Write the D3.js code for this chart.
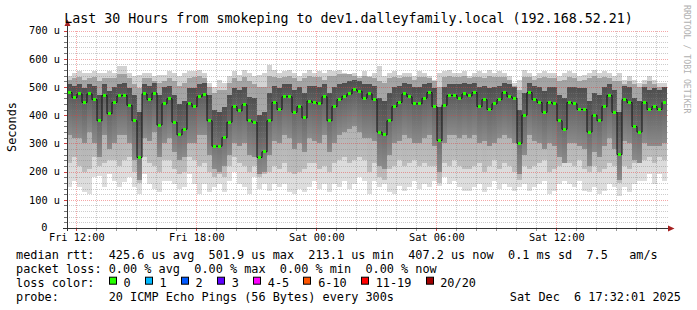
<!DOCTYPE html>
<html>
<head>
<meta charset="utf-8">
<script src="https://cdn.jsdelivr.net/npm/d3@7"></script>
<style>
  body { margin: 0; background: #fff; }
  text { font-family: "DejaVu Sans Mono", monospace; fill: #000; white-space: pre; }
</style>
</head>
<body>
<svg id="chart" width="697" height="310"></svg>
<script>
// 30 hours, one value every 15 minutes (values in microseconds)
const stepMinutes = 15;
const startTime = new Date(2025, 11, 5, 11, 32, 1);
const endTime = new Date(2025, 11, 6, 17, 32, 1);

const median = [
  480, 462, 475, 445, 475, 455, 380, 470, 405, 445, 468, 470, 435, 380, 250, 475, 455, 478, 365, 440,
  458, 375, 330, 350, 440, 430, 465, 472, 380, 290, 290, 320, 375, 430, 415, 437, 380, 375, 250, 270,
  380, 445, 420, 465, 465, 410, 430, 390, 450, 445, 440, 465, 380, 430, 455, 467, 475, 490, 485, 460,
  475, 455, 340, 330, 380, 430, 445, 475, 465, 440, 440, 460, 480, 430, 310, 435, 470, 470, 460, 475,
  468, 480, 430, 455, 420, 440, 455, 480, 465, 460, 300, 400, 480, 455, 445, 410, 445, 440, 380, 350,
  445, 440, 420, 420, 340, 400, 380, 430, 470, 410, 260, 455, 445, 360, 340, 445, 420, 430, 420, 445
];
// smoke: slowest and fastest of the 20 pings
const smokeMax = [
  537, 549, 555, 549, 549, 555, 549, 549, 555, 549, 573, 573, 549, 537, 543, 549, 549, 537, 543, 543,
  555, 549, 537, 549, 555, 555, 561, 549, 513, 501, 525, 513, 537, 555, 543, 561, 549, 537, 543, 549,
  579, 561, 549, 555, 561, 549, 537, 549, 561, 549, 555, 549, 561, 555, 561, 549, 537, 549, 537, 555,
  537, 549, 573, 537, 549, 555, 543, 549, 549, 537, 555, 549, 537, 525, 549, 555, 561, 549, 549, 555,
  537, 549, 555, 549, 561, 549, 555, 549, 537, 513, 525, 561, 549, 537, 549, 555, 549, 549, 537, 549,
  555, 549, 537, 543, 549, 561, 549, 555, 549, 537, 549, 525, 537, 525, 513, 525, 537, 525, 513, 513
];
const smokeMin = [
  144, 168, 144, 126, 120, 180, 186, 144, 192, 168, 144, 162, 180, 144, 120, 192, 156, 138, 126, 168,
  168, 156, 138, 144, 192, 156, 120, 156, 126, 144, 156, 126, 168, 198, 156, 144, 120, 180, 138, 156,
  132, 156, 144, 156, 126, 120, 138, 126, 144, 168, 138, 156, 126, 156, 144, 168, 138, 156, 180, 168,
  120, 168, 144, 156, 126, 120, 150, 132, 144, 168, 138, 156, 144, 168, 150, 180, 156, 168, 144, 132,
  132, 144, 156, 126, 144, 168, 138, 156, 144, 132, 144, 156, 132, 144, 156, 168, 120, 132, 156, 168,
  156, 144, 168, 132, 126, 144, 120, 132, 156, 144, 114, 144, 126, 156, 168, 168, 192, 156, 192, 168
];
// smoke: 2nd and 18th ping
const smokeP90 = [
  525, 530, 535, 525, 530, 535, 520, 530, 530, 530, 545, 545, 530, 510, 495, 530, 530, 520, 515, 520,
  530, 520, 505, 515, 530, 535, 540, 530, 500, 480, 490, 490, 515, 530, 520, 535, 520, 510, 500, 500,
  540, 535, 530, 535, 540, 530, 520, 530, 540, 535, 535, 525, 540, 540, 545, 545, 545, 540, 530, 540,
  535, 530, 520, 515, 530, 535, 530, 535, 535, 525, 535, 535, 530, 520, 500, 535, 540, 535, 535, 540,
  530, 535, 535, 530, 540, 535, 535, 535, 525, 505, 490, 535, 535, 525, 530, 535, 530, 530, 520, 525,
  535, 530, 520, 525, 530, 540, 530, 535, 530, 520, 520, 510, 520, 510, 500, 510, 520, 510, 500, 500
];
const smokeP10 = [
  230, 250, 220, 200, 210, 250, 220, 230, 240, 240, 220, 240, 250, 200, 160, 250, 230, 220, 200, 240,
  240, 210, 190, 200, 250, 240, 220, 230, 200, 180, 190, 180, 220, 250, 230, 220, 200, 220, 180, 190,
  200, 220, 210, 230, 200, 190, 200, 210, 230, 230, 210, 220, 200, 230, 240, 250, 230, 240, 250, 240,
  200, 230, 180, 170, 210, 220, 240, 220, 230, 240, 220, 230, 220, 220, 160, 230, 220, 240, 220, 210,
  210, 220, 230, 200, 220, 240, 210, 230, 220, 200, 170, 220, 210, 220, 230, 240, 200, 210, 220, 240,
  230, 220, 240, 210, 200, 220, 200, 210, 230, 220, 160, 220, 210, 230, 240, 240, 250, 230, 250, 240
];
// smoke: 5th and 15th ping
const smokeQ3 = [
  510, 505, 510, 495, 512, 505, 470, 510, 485, 500, 512, 515, 495, 470, 410, 512, 505, 515, 470, 500,
  505, 470, 440, 450, 495, 495, 512, 515, 470, 420, 410, 430, 470, 495, 490, 500, 465, 460, 400, 410,
  480, 505, 495, 512, 512, 490, 500, 480, 505, 505, 500, 512, 480, 500, 510, 515, 520, 525, 520, 510,
  512, 505, 460, 450, 480, 500, 505, 515, 512, 500, 500, 510, 515, 495, 430, 500, 512, 512, 510, 515,
  510, 515, 500, 505, 495, 500, 505, 515, 510, 500, 420, 480, 515, 505, 500, 485, 500, 500, 470, 460,
  500, 500, 495, 495, 450, 480, 470, 500, 512, 490, 410, 505, 500, 460, 450, 500, 490, 495, 490, 500
];
const smokeQ1 = [
  330, 320, 320, 300, 340, 300, 250, 330, 280, 300, 330, 330, 300, 240, 170, 320, 310, 340, 250, 300,
  320, 270, 240, 250, 300, 300, 330, 330, 260, 210, 200, 220, 260, 300, 290, 300, 260, 250, 190, 200,
  260, 310, 300, 330, 320, 280, 300, 270, 320, 310, 300, 330, 270, 300, 330, 340, 350, 360, 340, 320,
  320, 310, 220, 210, 260, 300, 310, 330, 320, 300, 300, 320, 330, 290, 200, 300, 330, 330, 320, 330,
  320, 330, 300, 310, 290, 300, 320, 330, 320, 300, 190, 260, 330, 310, 300, 280, 300, 290, 250, 230,
  300, 300, 290, 280, 220, 270, 250, 290, 320, 280, 170, 310, 300, 240, 230, 300, 290, 290, 290, 300
];

const yMax = 700;
const titleText = "Last 30 Hours from smokeping to dev1.dalleyfamily.local (192.168.52.21)";
const lossLabels = ["0", "1", "2", "3", "4-5", "6-10", "11-19", "20/20"];
const lossColors = ["#26ff00", "#00b8ff", "#0059ff", "#5e00ff", "#ff00ff", "#ff5500", "#ff0000", "#a00000"];
const legendRtt = "median rtt:  425.6 us avg  501.9 us max  213.1 us min  407.2 us now  0.1 ms sd  7.5   am/s";
const legendLoss = "packet loss: 0.00 % avg  0.00 % max  0.00 % min  0.00 % now";
const legendProbe = "probe:       20 ICMP Echo Pings (56 Bytes) every 300s";
const stampText = "Sat Dec  6 17:32:01 2025";

const svg = d3.select("#chart");
const margin = { left: 67, right: 667, top: 30.5, bottom: 228 };

const x = d3.scaleTime().domain([startTime, endTime]).range([margin.left, margin.right]);
const y = d3.scaleLinear().domain([0, yMax]).range([margin.bottom, margin.top]);

const times = median.map((d, i) => d3.timeMinute.offset(startTime, i * stepMinutes));
const nextX = i => x(d3.timeMinute.offset(times[i], stepMinutes));

// vertical shading inside each smoke band, darker towards the median
const defs = svg.append("defs");
function gradient(id, top, bottom) {
  const g = defs.append("linearGradient")
    .attr("id", id).attr("x1", 0).attr("x2", 0).attr("y1", 0).attr("y2", 1);
  g.append("stop").attr("offset", "0%").attr("stop-color", top);
  g.append("stop").attr("offset", "100%").attr("stop-color", bottom);
}
gradient("outer", "#d2d2d2", "#dedede");
gradient("mid", "#a2a2a2", "#bdbdbd");
gradient("inner", "#4e4e4e", "#8c8c8c");

const bands = [
  [smokeMin, smokeMax, "url(#outer)"],
  [smokeP10, smokeP90, "url(#mid)"],
  [smokeQ1, smokeQ3, "url(#inner)"]
];
bands.forEach(([lo, hi, fill]) => {
  svg.append("g")
    .attr("shape-rendering", "crispEdges")
    .selectAll("rect")
    .data(times)
    .join("rect")
      .attr("x", d => x(d))
      .attr("width", (d, i) => nextX(i) - x(d))
      .attr("y", (d, i) => y(hi[i]))
      .attr("height", (d, i) => y(lo[i]) - y(hi[i]))
      .attr("fill", fill);
});

// grid on top of the smoke
const grid = svg.append("g").attr("shape-rendering", "crispEdges");
const minorY = d3.range(0, yMax + 1, 20).filter(v => v % 100 !== 0);
const majorY = d3.range(100, yMax + 1, 100);
grid.selectAll(".minor-y").data(minorY).join("line")
  .attr("x1", margin.left).attr("x2", margin.right + 1)
  .attr("y1", d => Math.round(y(d)) + 0.5).attr("y2", d => Math.round(y(d)) + 0.5)
  .attr("stroke", "rgba(128,128,128,0.4)").attr("stroke-dasharray", "1,1");
const hours = x.ticks(d3.timeHour.every(1)).filter(t => t.getHours() % 6 !== 0);
const sixHours = x.ticks(d3.timeHour.every(6));
grid.selectAll(".minor-x").data(hours).join("line")
  .attr("x1", d => Math.round(x(d)) + 0.5).attr("x2", d => Math.round(x(d)) + 0.5)
  .attr("y1", margin.top).attr("y2", margin.bottom)
  .attr("stroke", "rgba(128,128,128,0.4)").attr("stroke-dasharray", "1,1");
grid.selectAll(".major-y").data(majorY).join("line")
  .attr("x1", margin.left).attr("x2", margin.right + 1)
  .attr("y1", d => Math.round(y(d)) + 0.5).attr("y2", d => Math.round(y(d)) + 0.5)
  .attr("stroke", "rgba(230,60,60,0.45)").attr("stroke-dasharray", "1,1");
grid.selectAll(".major-x").data(sixHours).join("line")
  .attr("x1", d => Math.round(x(d)) + 0.5).attr("x2", d => Math.round(x(d)) + 0.5)
  .attr("y1", margin.top).attr("y2", margin.bottom)
  .attr("stroke", "rgba(230,60,60,0.45)").attr("stroke-dasharray", "1,1");

// median line: dark steps with green loss-colour marks
const stepLine = d3.line()
  .x(d => x(d[0]))
  .y(d => y(d[1]))
  .curve(d3.curveStepAfter);
svg.append("path")
  .datum(times.map((t, i) => [t, median[i]]))
  .attr("d", stepLine)
  .attr("fill", "none")
  .attr("stroke", "#111")
  .attr("stroke-width", 1);
svg.append("g")
  .attr("shape-rendering", "crispEdges")
  .selectAll("rect")
  .data(times)
  .join("rect")
    .attr("x", d => x(d) + 1)
    .attr("width", 3)
    .attr("y", (d, i) => y(median[i]) - 1.5)
    .attr("height", 3)
    .attr("fill", lossColors[0]);

// axes
const xAxis = svg.append("g")
  .attr("transform", `translate(0,${margin.bottom})`)
  .call(d3.axisBottom(x)
    .ticks(d3.timeHour.every(6))
    .tickFormat(d3.timeFormat("%a %H:%M"))
    .tickSize(0)
    .tickPadding(5.5));
xAxis.select(".domain").remove();
xAxis.selectAll("text").style("font-size", "10.3px");

const yAxis = svg.append("g")
  .attr("transform", `translate(${margin.left},0)`)
  .call(d3.axisLeft(y)
    .tickValues(majorY.concat([0]))
    .tickFormat(d => d === 0 ? "0" : d + " u")
    .tickSize(0)
    .tickPadding(7));
yAxis.select(".domain").remove();
yAxis.selectAll("text").style("font-size", "10.3px");
// the zero label keeps the room of the missing unit, as rrdtool prints it
yAxis.selectAll(".tick").filter(d => d === 0).select("text").attr("x", -19.5).attr("dy", "0.2em");

// small tick marks
const ticks = svg.append("g").attr("shape-rendering", "crispEdges");
ticks.selectAll(".tx").data(hours.concat(sixHours)).join("line")
  .attr("x1", d => Math.round(x(d)) + 0.5).attr("x2", d => Math.round(x(d)) + 0.5)
  .attr("y1", margin.bottom).attr("y2", margin.bottom + 3)
  .attr("stroke", d => d.getHours() % 6 === 0 ? "#d04040" : "#999");
ticks.selectAll(".ty").data(minorY.concat(majorY)).join("line")
  .attr("x1", margin.left - 3).attr("x2", margin.left)
  .attr("y1", d => Math.round(y(d)) + 0.5).attr("y2", d => Math.round(y(d)) + 0.5)
  .attr("stroke", d => d % 100 === 0 ? "#d04040" : "#777");

// axis lines with arrows
const axisColor = "#333";
const arrowColor = "#a52020";
svg.append("line")
  .attr("x1", margin.left + 0.5).attr("x2", margin.left + 0.5)
  .attr("y1", margin.bottom + 3).attr("y2", 24)
  .attr("stroke", axisColor);
svg.append("line")
  .attr("x1", margin.left - 4).attr("x2", 671)
  .attr("y1", margin.bottom + 0.5).attr("y2", margin.bottom + 0.5)
  .attr("stroke", axisColor);
svg.append("path")
  .attr("d", `M${margin.left - 2.5},26 L${margin.left + 3.5},26 L${margin.left + 0.5},19.5 Z`)
  .attr("fill", arrowColor);
svg.append("path")
  .attr("d", `M668,${margin.bottom - 2.5} L668,${margin.bottom + 3.5} L674.5,${margin.bottom + 0.5} Z`)
  .attr("fill", arrowColor);

// title and labels
svg.append("text")
  .attr("x", 348.5).attr("y", 22.5)
  .attr("text-anchor", "middle")
  .style("font-size", "13.3px")
  .text(titleText);
svg.append("text")
  .attr("transform", "translate(15.5,127) rotate(-90)")
  .attr("text-anchor", "middle")
  .style("font-size", "11.85px")
  .text("Seconds");
svg.append("text")
  .attr("transform", "translate(684,5) rotate(90)")
  .style("font-size", "8.2px")
  .style("fill", "#b0b0b0")
  .text("RRDTOOL / TOBI OETIKER");

// legend
const legend = svg.append("g").style("font-size", "11.85px");
const lineY = [258.5, 272.7, 286.7, 300.8];
legend.append("text").attr("x", 16).attr("y", lineY[0]).text(legendRtt);
legend.append("text").attr("x", 16).attr("y", lineY[1]).text(legendLoss);
legend.append("text").attr("x", 16).attr("y", lineY[2]).text("loss color:");
legend.append("text").attr("x", 16).attr("y", lineY[3]).text(legendProbe);
legend.append("text").attr("x", 681).attr("y", lineY[3]).attr("text-anchor", "end").text(stampText);

const probe = legend.append("text").attr("x", 0).attr("y", -20).text("0000000000");
const cw = probe.node().getComputedTextLength() / 10;
probe.remove();

let cx = 16 + 13 * cw;
lossLabels.forEach((label, i) => {
  legend.append("rect")
    .attr("x", Math.round(cx) + 0.5).attr("y", lineY[2] - 9.5)
    .attr("width", 7).attr("height", 7)
    .attr("fill", lossColors[i])
    .attr("stroke", "#000");
  legend.append("text").attr("x", cx + 14.7).attr("y", lineY[2]).text(label);
  cx += 14.7 + label.length * cw + 2 * cw;
});
</script>
</body>
</html>
